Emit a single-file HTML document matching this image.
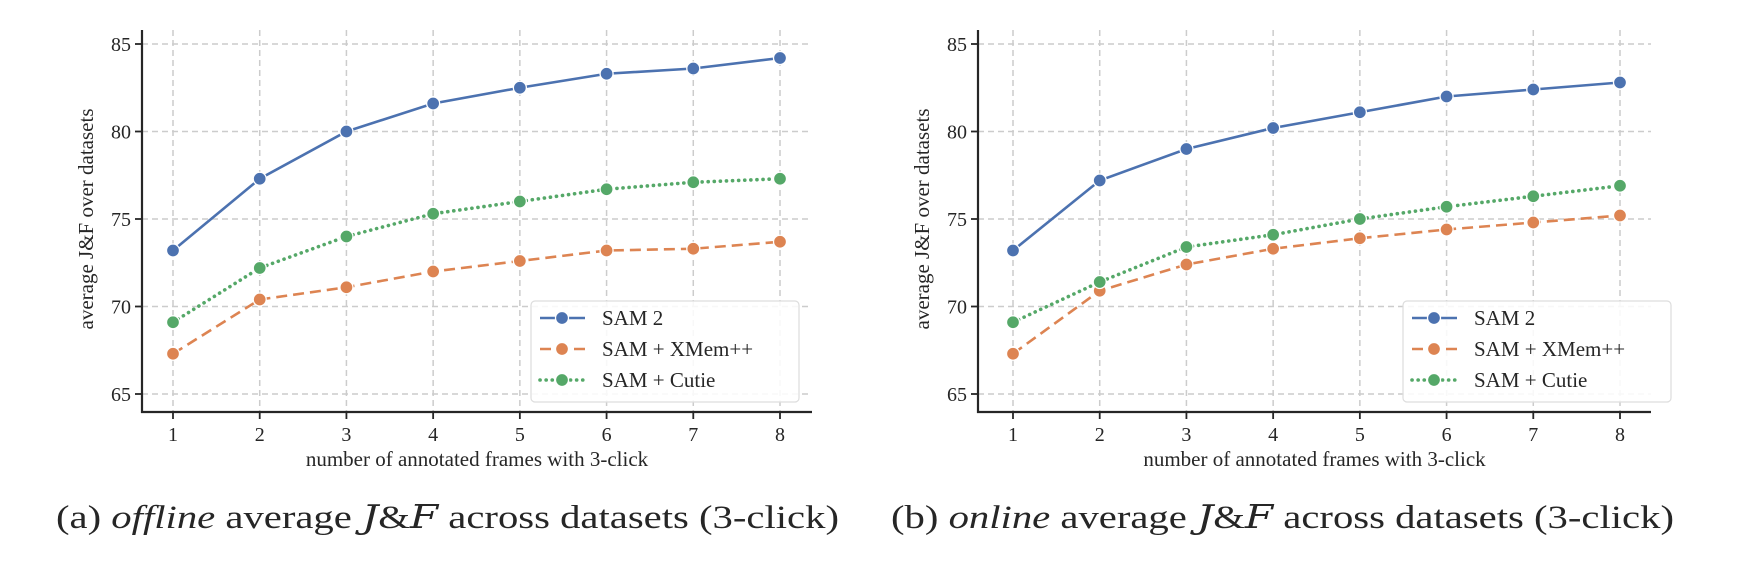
<!DOCTYPE html>
<html><head><meta charset="utf-8"><style>
body{margin:0;background:#fff;width:1743px;height:567px;overflow:hidden;font-family:"Liberation Serif",serif;}
svg text{font-family:"Liberation Serif",serif;fill:#262626;}
</style></head><body>
<svg id="chart" width="1743" height="567" xmlns="http://www.w3.org/2000/svg"></svg>
<script>
const categories=[1,2,3,4,5,6,7,8];
const yTicks=[65,70,75,80,85];
const seriesNames=["SAM 2","SAM + XMem++","SAM + Cutie"];
const offlineSam2=[73.2,77.3,80.0,81.6,82.5,83.3,83.6,84.2];
const offlineXmem=[67.3,70.4,71.1,72.0,72.6,73.2,73.3,73.7];
const offlineCutie=[69.1,72.2,74.0,75.3,76.0,76.7,77.1,77.3];
const onlineSam2=[73.2,77.2,79.0,80.2,81.1,82.0,82.4,82.8];
const onlineXmem=[67.3,70.9,72.4,73.3,73.9,74.4,74.8,75.2];
const onlineCutie=[69.1,71.4,73.4,74.1,75.0,75.7,76.3,76.9];
const colors=["#4c72b0","#dd8452","#55a868"];
const dashes=["","11,6","0.1,6"];
const svg=document.getElementById('chart');
const NS="http://www.w3.org/2000/svg";
function mk(tag,attrs,parent){const e=document.createElementNS(NS,tag);for(const k in attrs)e.setAttribute(k,attrs[k]);(parent||svg).appendChild(e);return e;}
function panel(id,axX,x1,x8,right,data,legX,capX,italic){
  const g=mk('g',{});
  
  
  const xs=c=>x1+(c-1)*(x8-x1)/7;
  const ys=v=>394-(v-65)*(394-44)/20;
  const bottom=412;
  yTicks.forEach(t=>{
    const l=mk('line',{x1:axX,x2:right,y1:ys(t),y2:ys(t),stroke:'#cccccc','stroke-width':1.5,'stroke-dasharray':'6,4'},g);
    
    
    mk('line',{x1:axX-7,x2:axX,y1:ys(t),y2:ys(t),stroke:'#262626','stroke-width':1.8},g);
    const tx=mk('text',{x:axX-11,y:ys(t)+7,'text-anchor':'end','font-size':20},g);
    tx.textContent=t;
    
    
  });
  categories.forEach(c=>{
    const l=mk('line',{x1:xs(c),x2:xs(c),y1:30,y2:bottom,stroke:'#cccccc','stroke-width':1.5,'stroke-dasharray':'6,4'},g);
    
    
    mk('line',{x1:xs(c),x2:xs(c),y1:bottom,y2:bottom+7,stroke:'#262626','stroke-width':1.8},g);
    const tx=mk('text',{x:xs(c),y:bottom+29,'text-anchor':'middle','font-size':20},g);
    tx.textContent=c;
    
    
  });
  mk('line',{x1:axX,x2:axX,y1:30,y2:bottom+1,stroke:'#262626','stroke-width':2.2},g);
  mk('line',{x1:axX-1,x2:right,y1:bottom,y2:bottom,stroke:'#262626','stroke-width':2.2},g);
  const xl=mk('text',{x:(axX+right)/2,y:bottom+54,'text-anchor':'middle','font-size':21},g);
  xl.textContent='number of annotated frames with 3-click';
  
  
  const yl=mk('text',{x:0,y:0,'text-anchor':'middle','font-size':21,transform:`translate(${axX-49},${(44+394)/2}) rotate(-90)`},g);
  yl.textContent='average J&F over datasets';
  
  
  data.forEach((vals,i)=>{
    const pts=vals.map((v,j)=>xs(categories[j])+','+ys(v)).join(' ');
    const p=mk('polyline',{points:pts,fill:'none',stroke:colors[i],'stroke-width':i==2?3.6:2.6,'stroke-dasharray':dashes[i],'stroke-linecap':i==2?'round':'butt'},g);
    
    
    vals.forEach((v,j)=>{
      const c=mk('circle',{cx:xs(categories[j]),cy:ys(v),r:6.5,fill:colors[i],stroke:'#fff','stroke-width':1.3},g);
      
      
    });
  });
  const lg=mk('g',{},g);
  
  
  mk('rect',{x:legX,y:301,width:268,height:101,rx:4,fill:'#fff','fill-opacity':0.85,stroke:'#dddddd','stroke-width':1.2},lg);
  seriesNames.forEach((n,i)=>{
    const y=318+i*31;
    mk('line',{x1:legX+9,x2:legX+54,y1:y,y2:y,stroke:colors[i],'stroke-width':i==2?3.6:2.6,'stroke-dasharray':dashes[i],'stroke-linecap':i==2?'round':'butt'},lg);
    mk('circle',{cx:legX+31,cy:y,r:6.5,fill:colors[i],stroke:'#fff','stroke-width':1.3},lg);
    const t=mk('text',{x:legX+71,y:y+7,'font-size':21},lg);
    t.textContent=n;
    
    
  });
  const cap=mk('text',{x:capX-391,y:528,'font-size':33,textLength:783,lengthAdjust:'spacingAndGlyphs'},g);
  cap.innerHTML=`(${id==='offline'?'a':'b'}) <tspan font-style="italic">${italic}</tspan> average <tspan font-style="italic" font-family="DejaVu Serif, serif">J</tspan>&amp;<tspan font-style="italic" font-family="DejaVu Serif, serif">F</tspan> across datasets (3-click)`;
  
  
}
panel('offline',142,173,780,812,[offlineSam2,offlineXmem,offlineCutie],531,447,'offline');
panel('online',978,1013,1620,1651,[onlineSam2,onlineXmem,onlineCutie],1403,1282,'online');
</script>
</body></html>
